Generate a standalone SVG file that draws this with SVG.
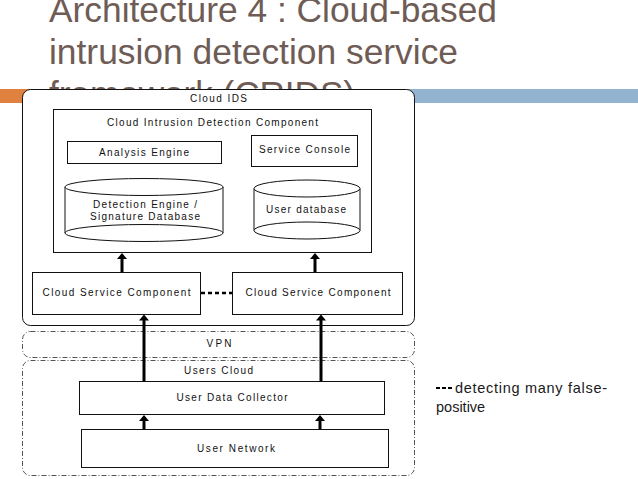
<svg xmlns="http://www.w3.org/2000/svg" width="638" height="479" viewBox="0 0 638 479">
<defs>
<style>
.t{font-family:"Liberation Sans",Arial,Helvetica,sans-serif;font-size:10px;fill:#111;text-anchor:middle}
.title{font-family:"Liberation Sans",Arial,Helvetica,sans-serif;font-size:35px;fill:#6E5C55}
.box{fill:#fff;stroke:#111;stroke-width:1}
.dd{fill:#fff;stroke:#555;stroke-width:1;stroke-dasharray:5 2 1 2}
.arr{stroke:#000;stroke-width:3;fill:none;marker-end:url(#ah)}
.dash{stroke:#000;stroke-width:2.5;stroke-dasharray:4 3;fill:none}
.leg{font-family:"Liberation Sans",Arial,Helvetica,sans-serif;font-size:14.5px;fill:#1a1a1a}
</style>
<marker id="ah" viewBox="0 0 6 10" refX="0.5" refY="5" markerWidth="6" markerHeight="10" markerUnits="userSpaceOnUse" orient="auto">
<path d="M0,0 L6,5 L0,10 z" fill="#000"/>
</marker>
</defs>
<rect width="638" height="479" fill="#fff"/>
<g id="title">
<text class="title" x="49" y="22" textLength="448" lengthAdjust="spacingAndGlyphs">Architecture 4 : Cloud-based</text>
<text class="title" x="49" y="64" textLength="409" lengthAdjust="spacingAndGlyphs">intrusion detection service</text>
<text class="title" x="49" y="106" textLength="306" lengthAdjust="spacingAndGlyphs">framework (CRIDS)</text>
</g>
<g id="bars">
<rect x="0" y="89" width="30" height="14" fill="#E0813F"/>
<rect x="30" y="89" width="608" height="14" fill="#93B4D1"/>
</g>
<g id="cloud-ids">
<rect class="box" x="22.5" y="89.5" width="392" height="236" rx="8"/>
<text class="t" x="218.5" y="102" textLength="57" lengthAdjust="spacing">Cloud IDS</text>
</g>
<g id="cidc">
<rect class="box" x="53.5" y="109.5" width="318" height="143"/>
<text class="t" x="212.5" y="126" textLength="211" lengthAdjust="spacing">Cloud Intrusion Detection Component</text>
</g>
<g id="analysis-engine">
<rect class="box" x="67.5" y="141.5" width="154" height="22"/>
<text class="t" x="144" y="156" textLength="90" lengthAdjust="spacing">Analysis Engine</text>
</g>
<g id="service-console">
<rect class="box" x="251.5" y="135.5" width="106" height="31"/>
<text class="t" x="304.5" y="153" textLength="91" lengthAdjust="spacing">Service Console</text>
</g>
<g id="signature-db">
<path class="box" d="M65,187 L65,233 M223,187 L223,233"/>
<ellipse class="box" cx="144" cy="187" rx="79" ry="8.5"/>
<ellipse class="box" cx="144" cy="233" rx="79" ry="8.5"/>
<text class="t" x="145" y="208" textLength="104" lengthAdjust="spacing">Detection Engine /</text>
<text class="t" x="145" y="220" textLength="110" lengthAdjust="spacing">Signature Database</text>
</g>
<g id="user-db">
<path class="box" d="M254,188.5 L254,230.5 M360,188.5 L360,230.5"/>
<ellipse class="box" cx="307" cy="188.5" rx="53" ry="8.5"/>
<ellipse class="box" cx="307" cy="230.5" rx="53" ry="8.5"/>
<text class="t" x="306" y="213" textLength="80" lengthAdjust="spacing">User database</text>
</g>
<g id="csc-left">
<rect class="box" x="32.5" y="272.5" width="168" height="42"/>
<text class="t" x="116.5" y="296" textLength="148" lengthAdjust="spacing">Cloud Service Component</text>
</g>
<g id="csc-right">
<rect class="box" x="232.5" y="272.5" width="170" height="42"/>
<text class="t" x="318" y="296" textLength="145" lengthAdjust="spacing">Cloud Service Component</text>
</g>
<g id="vpn">
<rect class="dd" x="22.5" y="331.5" width="392" height="26" rx="8"/>
<text class="t" x="219" y="347" textLength="25" lengthAdjust="spacing">VPN</text>
</g>
<g id="users-cloud">
<rect class="dd" x="22.5" y="360.5" width="392" height="115" rx="8"/>
<text class="t" x="218.5" y="374" textLength="69" lengthAdjust="spacing">Users Cloud</text>
</g>
<g id="user-data-collector">
<rect class="box" x="79.5" y="381.5" width="305" height="33"/>
<text class="t" x="232" y="401" textLength="111" lengthAdjust="spacing">User Data Collector</text>
</g>
<g id="user-network">
<rect class="box" x="81.5" y="429.5" width="307" height="38"/>
<text class="t" x="236" y="452" textLength="78" lengthAdjust="spacing">User Network</text>
</g>
<g id="connectors">
<line class="arr" x1="122" y1="272" x2="122" y2="258.5"/>
<line class="arr" x1="315" y1="272" x2="315" y2="258.5"/>
<line class="arr" x1="144" y1="381" x2="144" y2="320"/>
<line class="arr" x1="321" y1="381" x2="321" y2="320"/>
<line class="arr" x1="144" y1="429" x2="144" y2="420.5"/>
<line class="arr" x1="320" y1="429" x2="320" y2="420.5"/>
<line class="dash" x1="201" y1="293" x2="232" y2="293"/>
</g>
<g id="legend">
<line class="dash" x1="436" y1="388" x2="452" y2="388" style="stroke-width:2;stroke-dasharray:4 2"/>
<text class="leg" x="455" y="393" textLength="152" lengthAdjust="spacing">detecting many false-</text>
<text class="leg" x="436" y="412">positive</text>
</g>
</svg>
